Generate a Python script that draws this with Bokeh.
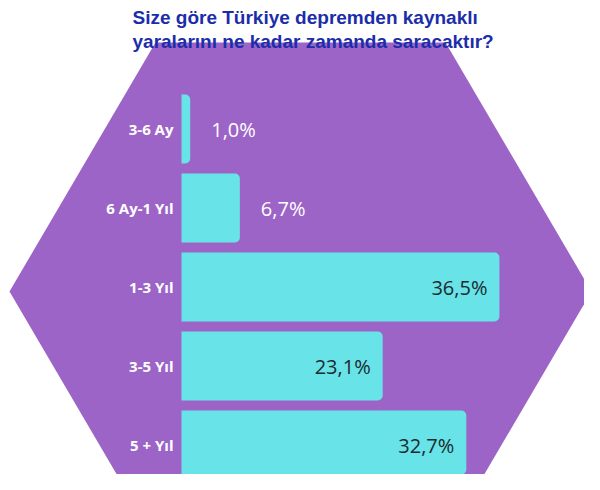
from bokeh.plotting import figure
from bokeh.models import Range1d, ColumnDataSource
from bokeh.core.properties import value
from bokeh.embed import file_html
from bokeh.resources import INLINE

# ---- data ----
categories = ["3-6 Ay", "6 Ay-1 Yıl", "1-3 Yıl", "3-5 Yıl", "5 + Yıl"]
percentages = [1.0, 6.7, 36.5, 23.1, 32.7]
pct_labels = ["1,0%", "6,7%", "36,5%", "23,1%", "32,7%"]
title_lines = ["Size göre Türkiye depremden kaynaklı",
               "yaralarını ne kadar zamanda saracaktır?"]

W, H = 584, 474
PX_PER_PCT = 8.71      # pixels per percentage point
X0 = 181               # pixel of 0%
ROW = 79               # pixels per category row
Y0 = 128.5             # pixel centre of first row


def fx(px):
    return (px - X0) / PX_PER_PCT


def fy(py):
    return (py - Y0) / ROW


p = figure(width=W, height=H, output_backend="svg", toolbar_location=None,
           x_range=Range1d(fx(0), fx(W)), y_range=Range1d(fy(H), fy(0)),
           min_border=0, min_border_left=0, min_border_right=0,
           min_border_top=0, min_border_bottom=0)
p.axis.visible = False
p.grid.visible = False
p.outline_line_color = None
p.background_fill_color = "white"
p.border_fill_color = "white"

# hexagon background (pixel vertices -> data space)
hx = [155, 445, 591, 445, 155, 9]
hy = [42, 42, 291, 540, 540, 291]
p.patch([fx(v) for v in hx], [fy(v) for v in hy], fill_color="#9D64C8",
        line_color=None)

idx = list(range(len(categories)))
src = ColumnDataSource(dict(y=idx, v=percentages, cat=categories, lab=pct_labels))
p.hbar(y="y", left=0, right="v", height=69 / ROW, source=src,
       fill_color="#68E3E8", line_color=None, border_radius=(0, 5, 5, 0))

# category labels
p.text(x=0, y="y", text="cat", source=src, x_offset=-8,
       text_align="right", text_baseline="middle",
       text_font=value("Open Sans"), text_font_style="bold",
       text_font_size="15px", text_color="white")

# value labels: outside for small bars, inside for large
out_i = [i for i, v in enumerate(percentages) if v < 10]
in_i = [i for i, v in enumerate(percentages) if v >= 10]
src_out = ColumnDataSource(dict(y=[idx[i] for i in out_i],
                                v=[percentages[i] for i in out_i],
                                lab=[pct_labels[i] for i in out_i]))
src_in = ColumnDataSource(dict(y=[idx[i] for i in in_i],
                               v=[percentages[i] for i in in_i],
                               lab=[pct_labels[i] for i in in_i]))
p.text(x="v", y="y", text="lab", source=src_out, x_offset=21,
       text_align="left", text_baseline="middle",
       text_font=value("Open Sans"), text_font_size="20px",
       text_color="white")
p.text(x="v", y="y", text="lab", source=src_in, x_offset=-12,
       text_align="right", text_baseline="middle",
       text_font=value("Open Sans"), text_font_size="20px",
       text_color="#1B2A30")

# title
p.text(x=[fx(132)] * 2, y=[fy(17), fy(41)], text=title_lines,
       text_align="left", text_baseline="alphabetic",
       text_font=value("Liberation Sans"), text_font_style="bold",
       text_font_size="19px", text_color="#1C2DAA")

open("out.html", "w").write(file_html(p, INLINE))
